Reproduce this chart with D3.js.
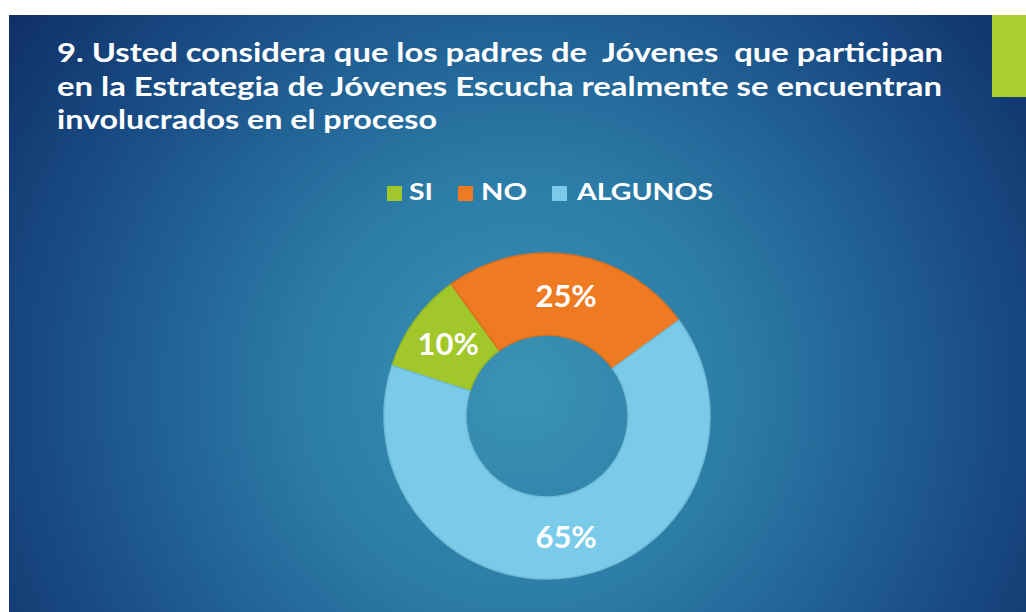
<!DOCTYPE html>
<html>
<head>
<meta charset="utf-8">
<script src="https://cdn.jsdelivr.net/npm/d3@7"></script>
<style>
  html, body { margin: 0; padding: 0; background: #fff; }
  svg { display: block; }
</style>
</head>
<body>
<div class="chart"></div>
<script>
var categories = ["SI", "NO", "ALGUNOS"]
var values = [10, 25, 65]
var colors = ["#a2c72b", "#ee7a22", "#7acbea"]
var titleLines = [
  "9. Usted considera que los padres de  Jóvenes  que participan",
  "en la Estrategia de Jóvenes Escucha realmente se encuentran",
  "involucrados en el proceso"
]
var titleWidths = [886, 885, 380]
var legendWidths = [24, 46, 136]

var width = 1026, height = 612
var center = { x: 547, y: 416 }
var outerR = 163, innerR = 81

var svg = d3.select(".chart").append("svg")
    .attr("width", width)
    .attr("height", height)

var defs = svg.append("defs")
var grad = defs.append("radialGradient")
    .attr("id", "bg")
    .attr("gradientUnits", "userSpaceOnUse")
    .attr("cx", 520).attr("cy", 390).attr("r", 640)
grad.append("stop").attr("offset", 0).attr("stop-color", "#3b93b4")
grad.append("stop").attr("offset", 0.35).attr("stop-color", "#2b7ba6")
grad.append("stop").attr("offset", 0.7).attr("stop-color", "#1b5088")
grad.append("stop").attr("offset", 1).attr("stop-color", "#0f2e66")

// slide panel
svg.append("rect")
    .attr("x", 9).attr("y", 15)
    .attr("width", width - 9).attr("height", height - 15)
    .attr("fill", "url(#bg)")

svg.append("rect")
    .attr("x", 992).attr("y", 15)
    .attr("width", 34).attr("height", 82)
    .attr("fill", "#a9d02e")

// title
svg.append("g").selectAll("text")
    .data(titleLines)
    .join("text")
    .attr("x", 57)
    .attr("y", (d, i) => 62 + i * 33.5)
    .attr("textLength", (d, i) => titleWidths[i])
    .attr("lengthAdjust", "spacingAndGlyphs")
    .style("font-family", "Lato, 'DejaVu Sans', sans-serif")
    .style("font-weight", "bold")
    .style("font-size", "27px")
    .style("fill", "#fff")
    .style("white-space", "pre")
    .text(d => d)

// legend
var legendX = [387, 458, 552]
var legend = svg.append("g").selectAll("g")
    .data(categories)
    .join("g")
    .attr("transform", (d, i) => "translate(" + legendX[i] + ",186)")
legend.append("rect")
    .attr("width", 15).attr("height", 15)
    .attr("fill", (d, i) => colors[i])
legend.append("text")
    .attr("x", (d, i) => i == 0 ? 22 : (i == 1 ? 23 : 25))
    .attr("y", 14)
    .attr("textLength", (d, i) => legendWidths[i])
    .attr("lengthAdjust", "spacingAndGlyphs")
    .style("font-family", "Lato, 'DejaVu Sans', sans-serif")
    .style("font-weight", "bold")
    .style("font-size", "23px")
    .style("fill", "#fff")
    .text(d => d)

// donut
var pie = d3.pie()
    .sort(null)
    .startAngle(-72 * Math.PI / 180)
    .endAngle(288 * Math.PI / 180)
    .value(d => d)
var arc = d3.arc().innerRadius(innerR).outerRadius(outerR)

var g = svg.append("g")
    .attr("transform", "translate(" + center.x + "," + center.y + ")")

g.selectAll("path")
    .data(pie(values))
    .join("path")
    .attr("d", arc)
    .attr("fill", (d, i) => colors[i])
    .attr("stroke", (d, i) => d3.color(colors[i]).darker(0.25))
    .attr("stroke-width", 1.5)

var total = d3.sum(values)
g.selectAll("text")
    .data(pie(values))
    .join("text")
    .attr("transform", d => "translate(" + arc.centroid(d) + ")")
    .attr("text-anchor", "middle")
    .attr("dy", "0.36em")
    .style("font-family", "Lato, 'DejaVu Sans', sans-serif")
    .style("font-weight", "bold")
    .style("font-size", "31px")
    .style("fill", "#fff")
    .text(d => Math.round(d.data / total * 100) + "%")
</script>
</body>
</html>
